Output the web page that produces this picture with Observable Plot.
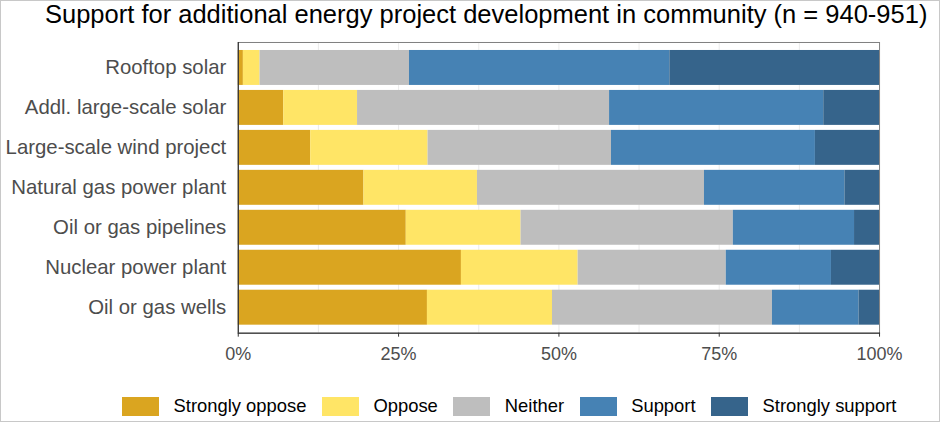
<!DOCTYPE html>
<html>
<head>
<meta charset="utf-8">
<script src="https://cdn.jsdelivr.net/npm/d3@7"></script>
<script src="https://cdn.jsdelivr.net/npm/@observablehq/plot@0.6"></script>
<style>
  html, body { margin: 0; padding: 0; background: white; }
  #chart {
    position: relative; width: 940px; height: 422px; box-sizing: border-box;
    border: 1px solid #c8c8c8; background: white; overflow: hidden;
    font-family: "Liberation Sans", Arial, sans-serif;
  }
  #title {
    position: absolute; left: 44px; top: -2px; height: 30px; line-height: 30px;
    font-size: 25.5px; color: #000; white-space: nowrap;
  }
  #plot { position: absolute; left: -1px; top: 29px; }
  #legend { position: absolute; left: 121px; top: 394px; }
  .lg-swatches { display: flex !important; align-items: center !important; margin: 0 !important; min-height: 0 !important;
    font-size: 18.4px !important; color: #000; font-family: "Liberation Sans", Arial, sans-serif !important; }
  .lg-swatch { margin-right: 15.5px !important; display: inline-flex !important; align-items: center !important; }
  .lg-swatch > svg { margin-right: 14.5px !important; }
</style>
</head>
<body>
<div id="chart">
  <div id="title">Support for additional energy project development in community (n = 940-951)</div>
  <div id="plot"></div>
  <div id="legend"></div>
</div>
<script>
const categories = ["Rooftop solar", "Addl. large-scale solar", "Large-scale wind project", "Natural gas power plant", "Oil or gas pipelines", "Nuclear power plant", "Oil or gas wells"];
const responses = ["Strongly oppose", "Oppose", "Neither", "Support", "Strongly support"];
const stronglyOppose = [0.8, 7.1, 11.3, 19.6, 26.2, 34.8, 29.5];
const oppose = [2.6, 11.5, 18.3, 17.7, 17.9, 18.2, 19.5];
const neither = [23.3, 39.3, 28.6, 35.4, 33.1, 23.1, 34.3];
const support = [40.6, 33.4, 31.8, 21.9, 18.9, 16.4, 13.5];
const stronglySupport = [32.7, 8.7, 10.0, 5.4, 3.9, 7.5, 3.2];
const colors = ["#DAA520", "#FFE566", "#BEBEBE", "#4682B4", "#36648B"];
const xTicks = [0, 25, 50, 75, 100];
const gridTicks = [0, 12.5, 25, 37.5, 50, 62.5, 75, 87.5, 100];

const series = [stronglyOppose, oppose, neither, support, stronglySupport];
const data = categories.flatMap((c, i) => series.map((s, j) => ({category: c, response: responses[j], value: s[i]})));

const chart = Plot.plot({
  width: 940,
  height: 338,
  marginTop: 12,
  marginBottom: 35,
  marginLeft: 238,
  marginRight: 60,
  style: {fontFamily: "'Liberation Sans', Arial, sans-serif", background: "white"},
  x: {domain: [0, 100]},
  y: {domain: categories, padding: 0.12},
  color: {domain: responses, range: colors},
  marks: [
    Plot.ruleX(gridTicks, {stroke: "#ebebeb", strokeWidth: 1}),
    Plot.barX(data, Plot.stackX({y: "category", x: "value", fill: "response", order: responses})),
    Plot.frame({stroke: "#808080"}),
    Plot.ruleX([0], {stroke: "#222"}),
    Plot.frame({anchor: "bottom", stroke: "#222"}),
    Plot.axisX({ticks: xTicks, tickFormat: d => d + "%", tickSize: 4, tickPadding: 10, fontSize: 18, fill: "#4d4d4d", stroke: "#333", label: null}),
    Plot.axisY({tickSize: 0, tickPadding: 12, fontSize: 20.4, fill: "#4d4d4d", label: null})
  ]
});
document.getElementById("plot").appendChild(chart);

const legend = Plot.legend({
  color: {domain: responses, range: colors},
  legend: "swatches",
  swatchWidth: 37,
  swatchHeight: 19,
  className: "lg"
});
document.getElementById("legend").appendChild(legend);
</script>
</body>
</html>
